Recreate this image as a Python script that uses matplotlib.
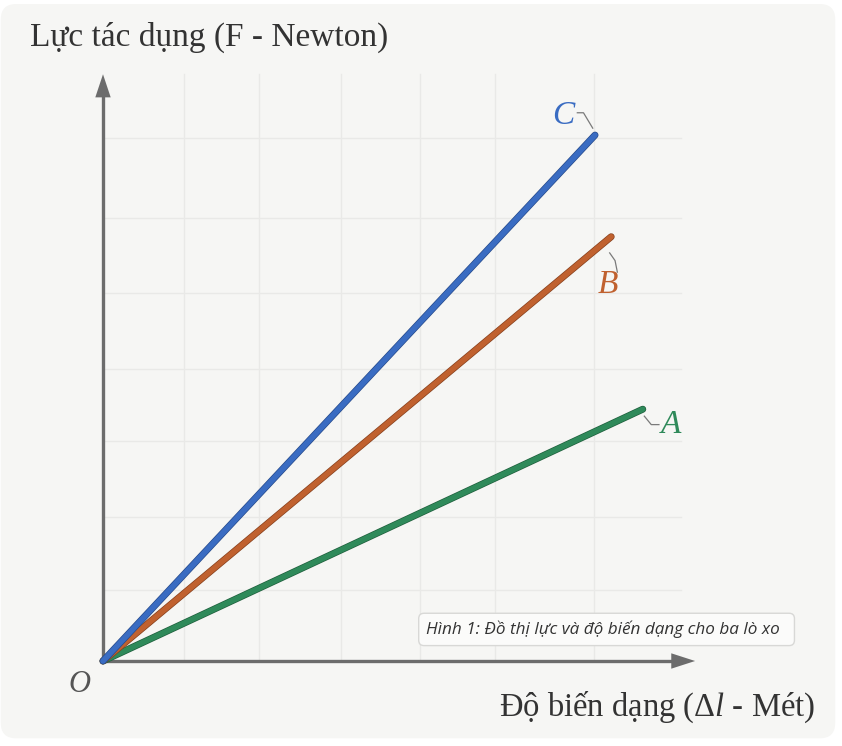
import matplotlib.pyplot as plt
import matplotlib.patheffects as pe
from matplotlib.patches import FancyBboxPatch, Polygon

# grid units: 1 unit ~ 77 px, origin at the O corner
grid_x = [1.05, 2.03, 3.09, 4.12, 5.09, 6.38]
grid_y = [0.92, 1.87, 2.86, 3.79, 4.78, 5.75, 6.79]

springs = ['A', 'B', 'C']
end_x = [7.01, 6.60, 6.39]
end_y = [3.27, 5.51, 6.83]
colors = ['#2f8a5a', '#c0612f', '#3a6cc2']
edge_colors = ['#1f5e3c', '#86401d', '#264a8a']

# label positions and leader lines (grid units)
label_xy = [(7.38, 3.07), (6.56, 4.88), (5.98, 7.08)]
leader = [([7.03, 7.12, 7.22], [3.18, 3.07, 3.07]),
          ([6.58, 6.65, 6.68], [5.30, 5.20, 5.05]),
          ([6.16, 6.24, 6.36], [7.12, 7.12, 6.92])]

ylabel = 'Lực tác dụng (F - Newton)'
xlabel = 'Độ biến dạng (Δ$l$ - Mét)'
caption = 'Hình 1: Đồ thị lực và độ biến dạng cho ba lò xo'

plt.rcParams['mathtext.fontset'] = 'custom'
plt.rcParams['mathtext.it'] = 'Liberation Serif:italic'
plt.rcParams['mathtext.rm'] = 'Liberation Serif'

W, H = 842, 746
px = 77.0
ox, oy = 103, 661

fig = plt.figure(figsize=(W / 100, H / 100), dpi=100)
fig.patch.set_facecolor('white')
ax = fig.add_axes([0, 0, 1, 1])
ax.set_xlim(-ox / px, (W - ox) / px)
ax.set_ylim(-(H - oy) / px, oy / px)
ax.axis('off')

# card background
card = FancyBboxPatch((-ox / px + 0.01, -(H - oy) / px + 0.1), (W - 6) / px - 0.02, (H - 4) / px - 0.1,
                      boxstyle='round,pad=0,rounding_size=0.2', fc='#f6f6f4', ec='none', zorder=0)
ax.add_patch(card)

# grid
for gx in grid_x:
    ax.plot([gx, gx], [0, 7.62], color='#e9e9e7', lw=1.0, zorder=1)
for gy in grid_y:
    ax.plot([0, 7.5], [gy, gy], color='#e9e9e7', lw=1.0, zorder=1)

# axes with arrow heads
axis_c = '#6c6c6c'
ax.plot([0, 7.45], [0, 0], color=axis_c, lw=2.4, zorder=2, solid_capstyle='butt')
ax.plot([0, 0], [0, 7.35], color=axis_c, lw=2.4, zorder=2, solid_capstyle='butt')
ax.add_patch(Polygon([[7.69, 0], [7.38, 0.1], [7.38, -0.1]], closed=True, fc=axis_c, ec='none', zorder=2))
ax.add_patch(Polygon([[0, 7.62], [-0.1, 7.32], [0.1, 7.32]], closed=True, fc=axis_c, ec='none', zorder=2))

# the three springs
for name, x1, y1, c, ec, lxy, (lx, ly) in zip(springs, end_x, end_y, colors, edge_colors, label_xy, leader):
    ax.plot([0, x1], [0, y1], color=c, lw=4.0, solid_capstyle='round', zorder=4,
            path_effects=[pe.Stroke(linewidth=5.0, foreground=ec), pe.Normal()])
    ax.plot(lx, ly, color='#7a7a7a', lw=0.9, zorder=3)
    ax.text(lxy[0], lxy[1], name, color=c, fontsize=24, family='Liberation Serif',
            style='italic', ha='center', va='center', zorder=5)

ax.text(-0.3, -0.3, 'O', color='#555555', fontsize=22, family='Liberation Serif',
        style='italic', ha='center', va='center')

ax.text(-0.95, 8.1, ylabel, fontsize=24, family='Liberation Serif', color='#333333',
        ha='left', va='center')
ax.text(9.25, -0.6, xlabel, fontsize=23.5, family='Liberation Serif', color='#333333',
        ha='right', va='center')

# caption box
box = FancyBboxPatch((4.1, 0.2), 4.88, 0.42, boxstyle='round,pad=0,rounding_size=0.07',
                     fc='#fbfbfa', ec='#d8d8d6', lw=1.0, zorder=5)
ax.add_patch(box)
ax.text(4.19, 0.41, caption, fontsize=12.3, family='Open Sans', style='italic',
        color='#333333', ha='left', va='center', zorder=6)

fig.savefig('out.png', dpi=100, facecolor=fig.get_facecolor())
